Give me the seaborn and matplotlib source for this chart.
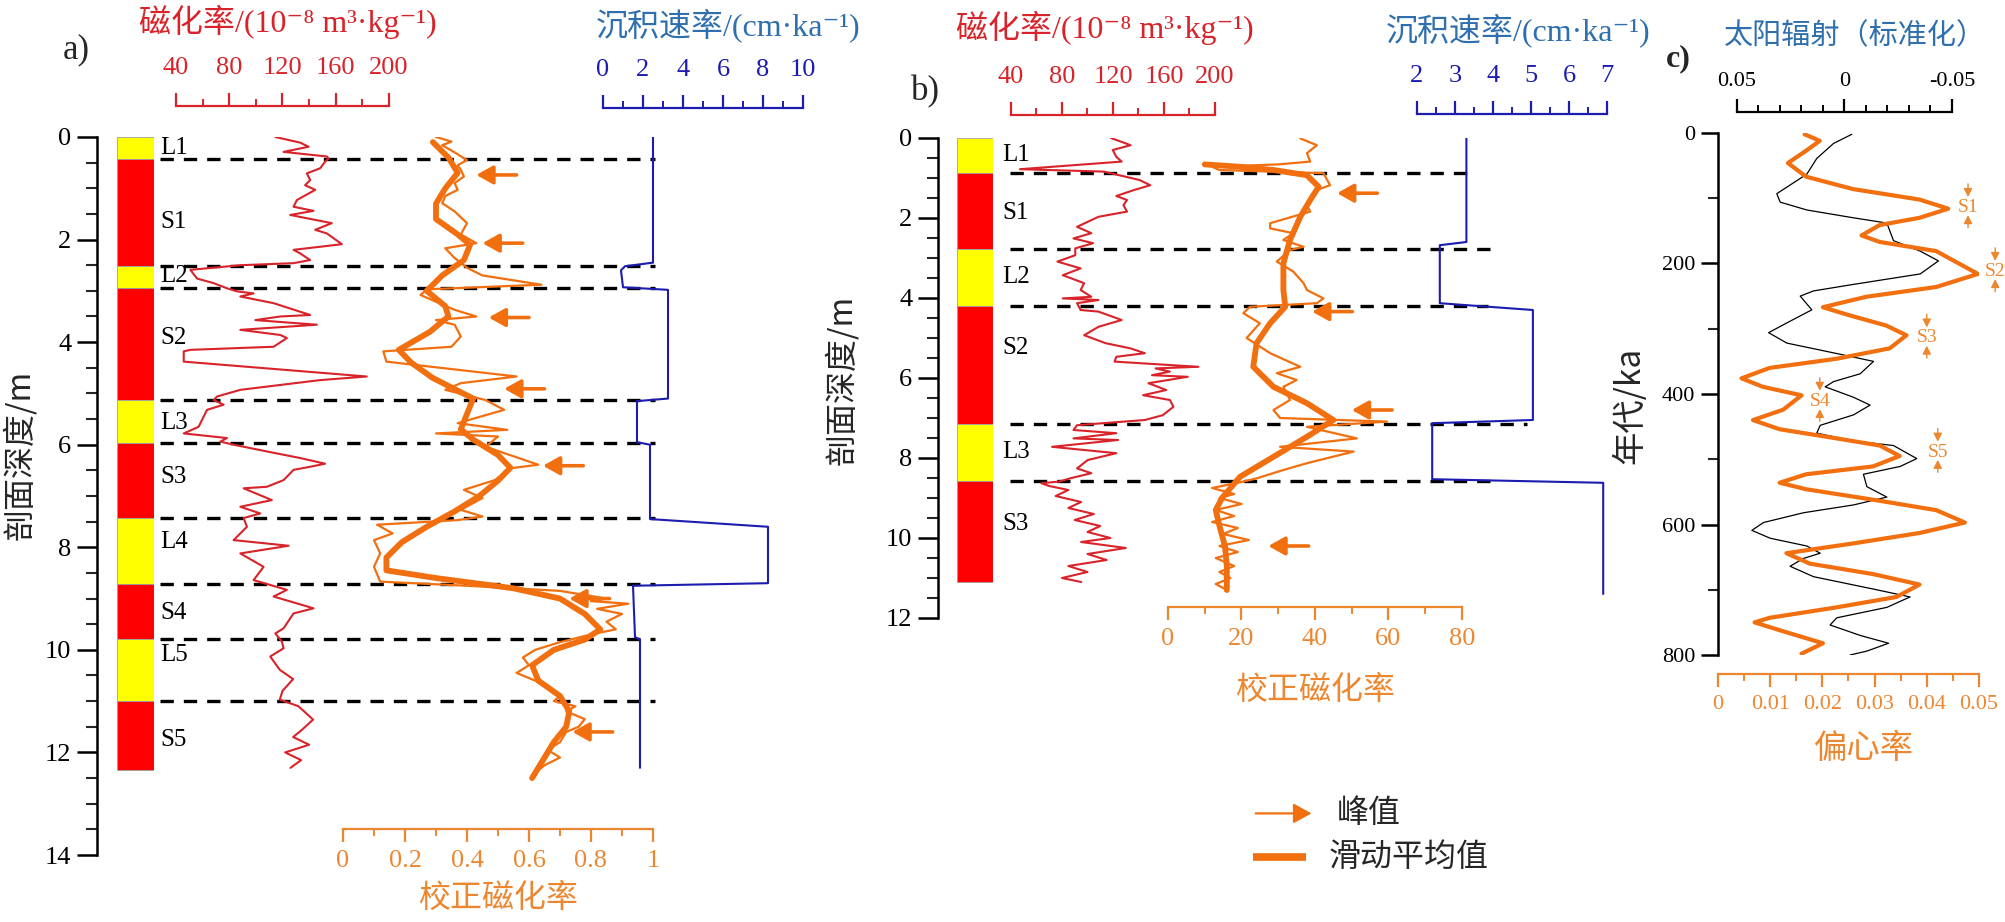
import matplotlib
matplotlib.use("Agg")
import numpy as np
import matplotlib.pyplot as plt
import matplotlib.ticker as mticker
import seaborn as sns

# ---------------- panel a data ----------------
a_layer_names = ["L1", "S1", "L2", "S2", "L3", "S3", "L4", "S4", "L5", "S5"]
a_layer_tops = [0, 0.43, 2.52, 2.95, 5.12, 5.97, 7.43, 8.72, 9.78, 11.0]
a_layer_bottoms = [0.43, 2.52, 2.95, 5.12, 5.97, 7.43, 8.72, 9.78, 11.0, 12.35]
a_label_depth = [0.22, 1.65, 2.72, 3.92, 5.58, 6.62, 7.89, 9.29, 10.1, 11.75]

a_sus_depth = [0.00, 0.11, 0.19, 0.29, 0.38, 0.42, 0.48, 0.61, 0.71, 0.84, 0.94, 1.03, 1.23, 1.36,
               1.40, 1.44, 1.52, 1.68, 1.81, 1.88, 2.09, 2.14, 2.20, 2.27, 2.40, 2.46, 2.50, 2.59,
               2.76, 2.85, 2.95, 3.01, 3.05, 3.11, 3.24, 3.47, 3.50, 3.57, 3.66, 3.76, 3.86, 3.92,
               4.09, 4.15, 4.18, 4.38, 4.67, 4.74, 4.93, 5.06, 5.13, 5.22, 5.32, 5.65, 5.78, 5.87,
               5.94, 6.00, 6.13, 6.26, 6.37, 6.43, 6.49, 6.69, 6.82, 6.85, 7.08, 7.21, 7.34, 7.43,
               7.60, 7.86, 7.97, 8.12, 8.38, 8.64, 8.83, 8.96, 9.19, 9.29, 9.58, 9.68, 9.84, 9.97,
               10.13, 10.39, 10.57, 10.80, 10.97, 11.10, 11.36, 11.55, 11.70, 11.85, 12.00, 12.15, 12.30]
a_sus = [114.6, 133.3, 139.6, 120.8, 153.3, 154.6, 152.0, 148.3, 138.3, 140.8, 137.0, 144.6, 130.8, 128.3,
         135.8, 143.3, 125.8, 157.0, 144.6, 153.3, 164.6, 148.3, 128.3, 133.3, 140.8, 128.3, 88.3, 50.8,
         55.8, 68.3, 78.3, 85.8, 98.3, 88.3, 113.3, 140.8, 118.3, 99.6, 145.8, 88.3, 118.3, 123.3,
         113.3, 50.8, 45.8, 45.8, 183.3, 148.3, 88.3, 70.8, 68.3, 75.8, 63.3, 57.0, 45.8, 78.3,
         73.3, 83.3, 108.0, 133.3, 152.0, 140.8, 128.3, 120.8, 108.3, 90.8, 112.0, 88.3, 103.3, 90.8,
         93.3, 83.3, 124.6, 88.3, 105.8, 98.3, 123.3, 113.3, 143.3, 128.3, 120.8, 114.6, 119.6, 120.8,
         110.8, 118.0, 128.0, 120.0, 118.0, 132.0, 143.0, 135.0, 128.0, 140.0, 122.0, 134.0, 126.0]

a_corr_depth = [0.00, 0.09, 0.16, 0.30, 0.45, 0.55, 0.64, 0.77, 0.90, 1.03, 1.15, 1.29, 1.45, 1.68,
                1.90, 2.07, 2.17, 2.36, 2.55, 2.70, 2.88, 2.97, 3.08, 3.24, 3.37, 3.50, 3.57, 3.66,
                3.89, 4.09, 4.18, 4.38, 4.67, 4.80, 4.93, 5.13, 5.32, 5.58, 5.71, 5.78, 5.84, 6.04,
                6.39, 6.46, 6.69, 6.88, 7.04, 7.27, 7.40, 7.47, 7.56, 7.73, 7.86, 8.12, 8.38, 8.67,
                8.75, 8.85, 9.00, 9.05, 9.10, 9.20, 9.30, 9.45, 9.60, 9.70, 9.85, 10.00, 10.15, 10.30,
                10.45, 10.60, 10.75, 10.90, 11.00, 11.10, 11.20, 11.35, 11.50, 11.60, 11.80, 11.95,
                12.10, 12.25, 12.40]
a_corr = [0.30, 0.35, 0.32, 0.36, 0.40, 0.37, 0.38, 0.39, 0.36, 0.37, 0.33, 0.32, 0.36, 0.40,
          0.38, 0.43, 0.33, 0.36, 0.40, 0.45, 0.64, 0.27, 0.25, 0.31, 0.36, 0.43, 0.30, 0.36,
          0.38, 0.35, 0.13, 0.14, 0.56, 0.38, 0.33, 0.46, 0.52, 0.37, 0.53, 0.30, 0.50, 0.46,
          0.63, 0.54, 0.49, 0.39, 0.45, 0.38, 0.45, 0.37, 0.11, 0.16, 0.10, 0.12, 0.10, 0.12,
          0.40, 0.70, 0.85, 0.80, 0.92, 0.82, 0.90, 0.85, 0.88, 0.80, 0.70, 0.62, 0.58, 0.60,
          0.56, 0.62, 0.66, 0.70, 0.68, 0.75, 0.72, 0.78, 0.76, 0.72, 0.70, 0.66,
          0.70, 0.65, 0.62]

a_mean_depth = [0.10, 0.40, 0.70, 1.00, 1.30, 1.60, 1.90, 2.10, 2.40, 2.70, 3.00, 3.30, 3.50, 3.80,
                4.15, 4.40, 4.70, 5.10, 5.40, 5.70, 5.90, 6.20, 6.45, 6.70, 7.00, 7.30, 7.60, 7.90,
                8.20, 8.45, 8.60, 8.80, 9.00, 9.30, 9.60, 9.80, 10.00, 10.30, 10.60, 10.90, 11.20,
                11.50, 11.80, 12.10, 12.50]
a_mean = [0.29, 0.34, 0.37, 0.33, 0.30, 0.30, 0.37, 0.41, 0.39, 0.32, 0.27, 0.33, 0.34, 0.28,
          0.18, 0.22, 0.29, 0.42, 0.40, 0.38, 0.42, 0.50, 0.54, 0.50, 0.44, 0.36, 0.27, 0.19,
          0.14, 0.14, 0.30, 0.55, 0.70, 0.78, 0.83, 0.78, 0.68, 0.61, 0.63, 0.70, 0.73,
          0.72, 0.68, 0.65, 0.61]

a_rate_depth = [0, 2.45, 2.52, 2.60, 2.93, 2.98, 5.10, 5.15, 5.95, 6.00, 7.45, 7.60, 8.70, 8.75,
                9.75, 9.80, 12.30]
a_rate = [2.5, 2.5, 1.1, 0.9, 1.0, 3.25, 3.25, 1.7, 1.7, 2.35, 2.35, 8.25, 8.25, 1.5,
          1.6, 1.85, 1.85]

a_peak_depth = [0.74, 2.07, 3.52, 4.91, 6.41, 9.00, 11.60]
a_peak_value = [0.43, 0.45, 0.47, 0.52, 0.645, 0.73, 0.74]

# ---------------- panel b data ----------------
b_layer_names = ["L1", "S1", "L2", "S2", "L3", "S3"]
b_layer_tops = [0, 0.87, 2.77, 4.21, 7.14, 8.58]
b_layer_bottoms = [0.87, 2.77, 4.21, 7.14, 8.58, 11.1]
b_label_depth = [0.43, 1.88, 3.47, 5.26, 7.84, 9.66]

b_sus_depth = [0.00, 0.18, 0.30, 0.47, 0.59, 0.62, 0.78, 0.84, 1.05, 1.18, 1.30, 1.45, 1.55, 1.68,
               1.84, 1.97, 2.22, 2.38, 2.51, 2.63, 2.76, 2.93, 3.09, 3.26, 3.43, 3.63, 3.80, 3.97,
               4.01, 4.05, 4.13, 4.30, 4.34, 4.55, 4.72, 4.93, 5.13, 5.26, 5.38, 5.47, 5.59, 5.72,
               5.76, 5.84, 5.93, 5.97, 6.13, 6.30, 6.43, 6.55, 6.72, 6.93, 7.05, 7.18, 7.30, 7.38,
               7.51, 7.55, 7.72, 7.88, 8.05, 8.26, 8.38, 8.51, 8.59, 8.63, 8.70, 8.80, 8.95, 9.10,
               9.25, 9.40, 9.55, 9.70, 9.85, 10.00, 10.10, 10.25, 10.40, 10.55, 10.70, 10.85,
               11.00, 11.10]
b_sus = [118.4, 133.8, 119.8, 122.6, 126.8, 114.2, 47.0, 112.8, 140.8, 149.2, 136.6, 122.6, 131.0, 128.2,
         131.0, 108.6, 91.8, 103.0, 89.0, 104.4, 90.4, 90.4, 76.4, 94.6, 80.6, 97.4, 94.6, 103.0,
         80.6, 108.6, 91.8, 94.6, 108.6, 126.8, 108.6, 97.4, 114.2, 133.8, 145.0, 122.6, 121.2, 187.0,
         153.4, 164.6, 150.6, 178.6, 147.8, 161.8, 143.6, 164.6, 167.4, 159.0, 145.0, 91.8, 89.0, 122.6,
         89.0, 124.0, 72.2, 122.6, 100.2, 91.8, 103.0, 86.2, 77.8, 63.8, 70.0, 85.0, 75.0, 95.0,
         85.0, 105.0, 90.0, 110.0, 100.0, 118.0, 95.0, 130.0, 100.0, 115.0, 85.0, 100.0,
         80.0, 95.0]

b_corr_depth = [0.01, 0.18, 0.38, 0.59, 0.66, 0.72, 0.80, 0.88, 1.18, 1.30, 1.43, 1.68, 1.84, 2.13,
                2.26, 2.38, 2.55, 2.72, 2.80, 3.09, 3.34, 3.63, 3.80, 4.01, 4.13, 4.22, 4.38, 4.63,
                5.00, 5.38, 5.72, 5.88, 6.05, 6.22, 6.55, 6.80, 7.00, 7.09, 7.22, 7.51, 7.72, 7.84,
                8.13, 8.30, 8.51, 8.60, 8.75, 8.90, 9.00, 9.15, 9.30, 9.45, 9.60, 9.75, 9.90, 10.05,
                10.20, 10.35, 10.50, 10.70, 10.85, 11.00, 11.15, 11.30]
b_corr = [36.0, 40.5, 37.8, 38.7, 30.0, 12.0, 14.0, 42.3, 44.1, 40.5, 39.6, 37.8, 38.7, 27.8,
          27.8, 34.1, 31.4, 36.9, 33.2, 29.6, 34.1, 36.9, 37.8, 42.3, 40.5, 22.3, 20.5, 25.0,
          21.4, 27.8, 36.0, 29.6, 35.0, 31.4, 33.2, 28.7, 30.5, 59.6, 37.8, 51.4, 30.5, 50.5,
          37.8, 31.4, 24.1, 20.0, 12.0, 18.0, 14.0, 20.0, 13.0, 18.0, 12.0, 19.0, 15.0, 22.0,
          14.0, 19.0, 13.0, 18.0, 14.0, 17.0, 13.0, 16.0]

b_mean_depth = [0.66, 0.72, 0.80, 0.93, 1.22, 1.55, 1.97, 2.55, 3.13, 3.80, 4.22, 4.63, 5.13, 5.72,
                6.22, 6.63, 7.05, 7.47, 7.97, 8.47, 9.00, 9.30, 9.70, 10.20, 10.70, 11.30]
b_mean = [10.0, 19.6, 28.7, 37.8, 41.0, 38.7, 36.0, 33.2, 31.4, 31.4, 31.9, 27.8, 24.1, 23.2,
          28.7, 37.8, 45.0, 37.8, 28.7, 19.6, 14.7, 13.0, 14.0, 15.5, 16.0, 16.0]

b_rate_depth = [0, 2.60, 2.68, 4.13, 4.30, 7.05, 7.13, 8.53, 8.62, 11.40]
b_rate = [3.3, 3.3, 2.6, 2.6, 5.05, 5.05, 2.4, 2.4, 6.9, 6.9]

b_peak_depth = [1.38, 4.34, 6.80, 10.20]
b_peak_value = [46.0, 39.2, 50.0, 27.3]

# ---------------- panel c data ----------------
c_ecc_age = [2, 12, 27, 46, 67, 86, 102, 116, 130, 141, 157, 167, 181, 216, 236, 251, 267, 279,
             295, 310, 330, 346, 360, 376, 389, 402, 424, 440, 454, 468, 479, 495, 511, 523, 536,
             546, 562, 578, 597, 613, 629, 644, 660, 676, 692, 711, 727, 743, 750, 762, 782, 798]
c_ecc = [0.0166, 0.0195, 0.0169, 0.0134, 0.0169, 0.0259, 0.0386, 0.0441, 0.0386, 0.0310, 0.0275,
         0.0310, 0.0418, 0.0498, 0.0418, 0.0284, 0.0201, 0.0250, 0.0322, 0.0361, 0.0329, 0.0227,
         0.0099, 0.0045, 0.0086, 0.0160, 0.0125, 0.0067, 0.0118, 0.0227, 0.0310, 0.0348, 0.0297,
         0.0169, 0.0118, 0.0169, 0.0297, 0.0418, 0.0473, 0.0386, 0.0259, 0.0131, 0.0176, 0.0297,
         0.0386, 0.0342, 0.0227, 0.0099, 0.0070, 0.0118, 0.0201, 0.0160]

c_ins_age = [2, 16, 39, 63, 93, 106, 118, 130, 138, 165, 181, 196, 216, 232, 242, 250, 271, 291,
             306, 322, 338, 350, 369, 381, 389, 405, 417, 432, 448, 460, 472, 479, 499, 511, 523,
             542, 558, 570, 582, 597, 609, 621, 633, 644, 652, 664, 680, 699, 711, 727, 743, 754,
             770, 782, 794, 800]
c_ins = [-0.0034, 0.0051, 0.0129, 0.0175, 0.0315, 0.0299, 0.0175, -0.0042, -0.0197, -0.0228,
         -0.0352, -0.0437, -0.0352, -0.0042, 0.0144, 0.0206, 0.0152, 0.0268, 0.0353, 0.0268,
         0.0036, -0.0135, -0.0073, 0.0051, 0.0090, -0.0042, -0.0119, -0.0042, 0.0113, 0.0129,
         -0.0042, -0.0228, -0.0336, -0.0259, -0.0088, -0.0104, -0.0197, -0.0042, 0.0191, 0.0377,
         0.0431, 0.0346, 0.0175, 0.0113, 0.0191, 0.0253, 0.0144, -0.0135, -0.0305, -0.0197,
         0.0036, 0.0067, -0.0073, -0.0205, -0.0104, -0.0026]

c_mark_names = ["S1", "S2", "S3", "S4", "S5"]
c_mark_age = [114, 212, 314, 411, 489]
c_mark_ecc = [0.0479, 0.0531, 0.0400, 0.0195, 0.0421]

# ---------------- style ----------------
RED = "#d8232a"
BLUE = "#1c1cb0"
BLUE_T = "#2f6fae"
ORANGE = "#f26f0f"
ORANGE_AX = "#ec8730"

sns.set_style("white")
plt.rcParams["font.family"] = ["Liberation Serif", "Noto Sans CJK SC", "DejaVu Sans"]
plt.rcParams["axes.unicode_minus"] = False
plt.rcParams["lines.solid_joinstyle"] = "round"
CJK = ["Noto Sans CJK SC", "Liberation Serif", "DejaVu Sans"]

W, H = 2006, 922
fig = plt.figure(figsize=(W / 100, H / 100), dpi=100)
PX = 0.72  # points per pixel


def px_axes(x0, y0, x1, y1):
    ax = fig.add_axes([x0 / W, 1 - y1 / H, (x1 - x0) / W, (y1 - y0) / H])
    ax.patch.set_alpha(0)
    for s in ax.spines.values():
        s.set_visible(False)
    ax.set_xticks([])
    ax.set_yticks([])
    ax.grid(False)
    return ax


def ftext(x, y, s, **kw):
    fig.text(x / W, 1 - y / H, s, ha=kw.pop("ha", "center"), va=kw.pop("va", "center"), **kw)


def depth_axis(ax, top, major, minor, size):
    ax.set_ylim(top, 0)
    ax.spines["left"].set_visible(True)
    ax.spines["left"].set_linewidth(1.8)
    ax.spines["left"].set_color("black")
    ax.yaxis.set_major_locator(mticker.MultipleLocator(major))
    ax.yaxis.set_minor_locator(mticker.MultipleLocator(minor))
    ax.tick_params(axis="y", which="major", direction="out", length=20 * PX, width=1.8,
                   labelsize=size, pad=4, colors="black", left=True)
    ax.tick_params(axis="y", which="minor", direction="out", length=11 * PX, width=1.5, left=True)


def curve_axis(ax, lim, top, where, out_px, major, minor, color, tick_color, size, pad, fmt=None):
    ax.set_xlim(*lim)
    ax.set_ylim(top, 0)
    sp = ax.spines[where]
    sp.set_visible(True)
    sp.set_color(color)
    sp.set_linewidth(1.6)
    sp.set_position(("outward", out_px * PX))
    if where == "top":
        ax.xaxis.tick_top()
    else:
        ax.xaxis.tick_bottom()
    ax.xaxis.set_major_locator(mticker.MultipleLocator(major))
    ax.xaxis.set_minor_locator(mticker.MultipleLocator(minor))
    if fmt is not None:
        ax.xaxis.set_major_formatter(mticker.FuncFormatter(fmt))
    ax.tick_params(axis="x", which="major", direction="out", length=13 * PX, width=1.6,
                   color=color, labelcolor=tick_color, labelsize=size, pad=pad)
    ax.tick_params(axis="x", which="minor", direction="out", length=7 * PX, width=1.4, color=color)


def column(ax, tops, bottoms, names, label_depth, label_x):
    thick = np.array(bottoms) - np.array(tops)
    colors = ["#ffff00" if n.startswith("L") else "#ff0000" for n in names]
    ax.bar(0.5, thick, bottom=tops, width=1.0, color=colors, edgecolor="#a0a0a0", linewidth=0.6)
    ax.set_xlim(0, 1)
    for n, d in zip(names, label_depth):
        ax.text(label_x, d, n, transform=ax.get_yaxis_transform(), fontsize=18,
                ha="left", va="center", color="black", clip_on=False)


def peaks(ax, depth, value, length=29):
    for d, v in zip(depth, value):
        ax.annotate("", xy=(v, d), xytext=(length, 0), textcoords="offset points",
                    arrowprops=dict(arrowstyle="-|>,head_length=0.5,head_width=0.28",
                                    mutation_scale=20, color=ORANGE, lw=2.6,
                                    shrinkA=0, shrinkB=0), annotation_clip=False)


# =============== panel a ===============
A_TOP, A_BOT = 137, 855
ax_a = px_axes(97, A_TOP, 700, A_BOT)
depth_axis(ax_a, 14, 2, 0.5, 19)
ax_a.set_yticks(np.arange(0, 15, 2))
ax_a.hlines(a_layer_bottoms[:-1], (160 - 97) / 603, (655 - 97) / 603,
            transform=ax_a.get_yaxis_transform(), colors="black", linestyles=(0, (4, 3)), lw=2.4)

col_a = px_axes(117, A_TOP, 154, A_BOT)
col_a.set_ylim(14, 0)
column(col_a, a_layer_tops, a_layer_bottoms, a_layer_names, a_label_depth, 1.16)

red_a = px_axes(176, A_TOP, 389, A_BOT)
sns.lineplot(x=a_sus, y=a_sus_depth, ax=red_a, sort=False, estimator=None, color=RED, lw=1.5)
curve_axis(red_a, (40, 200), 14, "top", 31, 40, 20, RED, RED, 19, 10)

blue_a = px_axes(603, A_TOP, 803, A_BOT)
sns.lineplot(x=a_rate, y=a_rate_depth, ax=blue_a, sort=False, estimator=None, color=BLUE, lw=1.5)
curve_axis(blue_a, (0, 10), 14, "top", 29, 2, 1, BLUE, BLUE, 19, 10)

org_a = px_axes(343, A_TOP, 653, A_BOT)
sns.lineplot(x=a_corr, y=a_corr_depth, ax=org_a, sort=False, estimator=None, color=ORANGE, lw=1.6)
sns.lineplot(x=a_mean, y=a_mean_depth, ax=org_a, sort=False, estimator=None, color=ORANGE, lw=4.2)
curve_axis(org_a, (0, 1), 14, "bottom", 0, 0.2, 0.1, ORANGE_AX, ORANGE_AX, 19, 6,
           fmt=lambda v, p: f"{v:g}")
org_a.spines["bottom"].set_position(("axes", (A_BOT - 829) / (A_BOT - A_TOP)))
peaks(org_a, a_peak_depth, a_peak_value)

ftext(76, 50, "a)", fontsize=25)
ftext(288, 22, "磁化率/(10⁻⁸ m³·kg⁻¹)", fontsize=23, color=RED)
ftext(728, 25, "沉积速率/(cm·ka⁻¹)", fontsize=23, color=BLUE_T)
ftext(19, 455, "剖面深度/m", fontsize=23, rotation=90, family=CJK)
ftext(498, 898, "校正磁化率", fontsize=23, color=ORANGE_AX, family=CJK)

# =============== panel b ===============
B_TOP, B_BOT = 138, 618
ax_b = px_axes(938, B_TOP, 1640, B_BOT)
depth_axis(ax_b, 12, 2, 0.5, 19)
ax_b.set_yticks(np.arange(0, 13, 2))
b_ends = [1467, 1492, 1488, 1527, 1500]
for d, e in zip(b_layer_bottoms[:-1], b_ends):
    ax_b.hlines(d, (1010 - 938) / 702, (e - 938) / 702, transform=ax_b.get_yaxis_transform(),
                colors="black", linestyles=(0, (4, 3)), lw=2.4)

col_b = px_axes(957, B_TOP, 993, B_BOT)
col_b.set_ylim(12, 0)
column(col_b, b_layer_tops, b_layer_bottoms, b_layer_names, b_label_depth, 1.25)

red_b = px_axes(1011, B_TOP, 1215, B_BOT)
sns.lineplot(x=b_sus, y=b_sus_depth, ax=red_b, sort=False, estimator=None, color=RED, lw=1.5)
curve_axis(red_b, (40, 200), 12, "top", 23, 40, 20, RED, RED, 19, 10)

blue_b = px_axes(1417, B_TOP, 1607, B_BOT)
sns.lineplot(x=b_rate, y=b_rate_depth, ax=blue_b, sort=False, estimator=None, color=BLUE, lw=1.5)
curve_axis(blue_b, (2, 7), 12, "top", 24, 1, 0.5, BLUE, BLUE, 19, 10)

org_b = px_axes(1168, B_TOP, 1462, B_BOT)
sns.lineplot(x=b_corr, y=b_corr_depth, ax=org_b, sort=False, estimator=None, color=ORANGE, lw=1.6)
sns.lineplot(x=b_mean, y=b_mean_depth, ax=org_b, sort=False, estimator=None, color=ORANGE, lw=4.2)
curve_axis(org_b, (0, 80), 12, "bottom", 0, 20, 10, ORANGE_AX, ORANGE_AX, 19, 6)
org_b.spines["bottom"].set_position(("axes", (B_BOT - 607) / (B_BOT - B_TOP)))
peaks(org_b, b_peak_depth, b_peak_value)

ftext(925, 92, "b)", fontsize=25)
ftext(1105, 28, "磁化率/(10⁻⁸ m³·kg⁻¹)", fontsize=23, color=RED)
ftext(1518, 30, "沉积速率/(cm·ka⁻¹)", fontsize=23, color=BLUE_T)
ftext(841, 380, "剖面深度/m", fontsize=23, rotation=90, family=CJK)
ftext(1315, 690, "校正磁化率", fontsize=23, color=ORANGE_AX, family=CJK)

# =============== panel c ===============
C_TOP, C_BOT = 133, 655
ax_c = px_axes(1718, C_TOP, 2000, C_BOT)
depth_axis(ax_c, 800, 200, 100, 16)
ax_c.set_yticks(np.arange(0, 801, 200))
ax_c.tick_params(axis="y", which="major", length=17 * PX)
ax_c.tick_params(axis="y", which="minor", length=10 * PX)

ins_c = px_axes(1737, C_TOP, 1952, C_BOT)
sns.lineplot(x=c_ins, y=c_ins_age, ax=ins_c, sort=False, estimator=None, color="black", lw=0.9)
curve_axis(ins_c, (0.05, -0.05), 800, "top", 21, 0.05, 0.01, "black", "black", 16, 6,
           fmt=lambda v, p: f"{v:g}")

ecc_c = px_axes(1718, C_TOP, 1979, C_BOT)
sns.lineplot(x=c_ecc, y=c_ecc_age, ax=ecc_c, sort=False, estimator=None, color=ORANGE, lw=3.0)
curve_axis(ecc_c, (0, 0.05), 800, "bottom", 19, 0.01, 0.005, ORANGE_AX, ORANGE_AX, 16, 6,
           fmt=lambda v, p: f"{v:g}")
for n, a, e in zip(c_mark_names, c_mark_age, c_mark_ecc):
    ecc_c.text(e, a, n, fontsize=14, color=ORANGE_AX, ha="center", va="center")
    for tail, head in [(a - 36, a - 16), (a + 31, a + 12)]:
        ecc_c.annotate("", xy=(e, head), xytext=(e, tail),
                       arrowprops=dict(arrowstyle="-|>,head_length=0.35,head_width=0.18",
                                       mutation_scale=14, color=ORANGE_AX, lw=1.0,
                                       shrinkA=0, shrinkB=0), annotation_clip=False)

ftext(1678, 59, "c)", fontsize=23, fontweight="bold")
ftext(1855, 36, "太阳辐射（标准化）", fontsize=21, color=BLUE_T, family=CJK)
ftext(1630, 405, "年代/ka", fontsize=24, rotation=90, family=CJK)
ftext(1863, 748, "偏心率", fontsize=24, color=ORANGE_AX, family=CJK)

# =============== legend ===============
leg = px_axes(1250, 790, 1530, 880)
leg.set_xlim(0, 1)
leg.set_ylim(0, 1)
leg.annotate("", xy=(0.22, 0.74), xytext=(0.02, 0.74),
             arrowprops=dict(arrowstyle="-|>,head_length=0.55,head_width=0.3", mutation_scale=20,
                             color=ORANGE, lw=1.6, shrinkA=0, shrinkB=0))
leg.plot([0.01, 0.20], [0.26, 0.26], color=ORANGE, lw=5.5, solid_capstyle="butt")
leg.text(0.31, 0.74, "峰值", fontsize=23, va="center", ha="left", family=CJK)
leg.text(0.28, 0.26, "滑动平均值", fontsize=23, va="center", ha="left", family=CJK)

fig.savefig("out.png", dpi=100, facecolor="white")
